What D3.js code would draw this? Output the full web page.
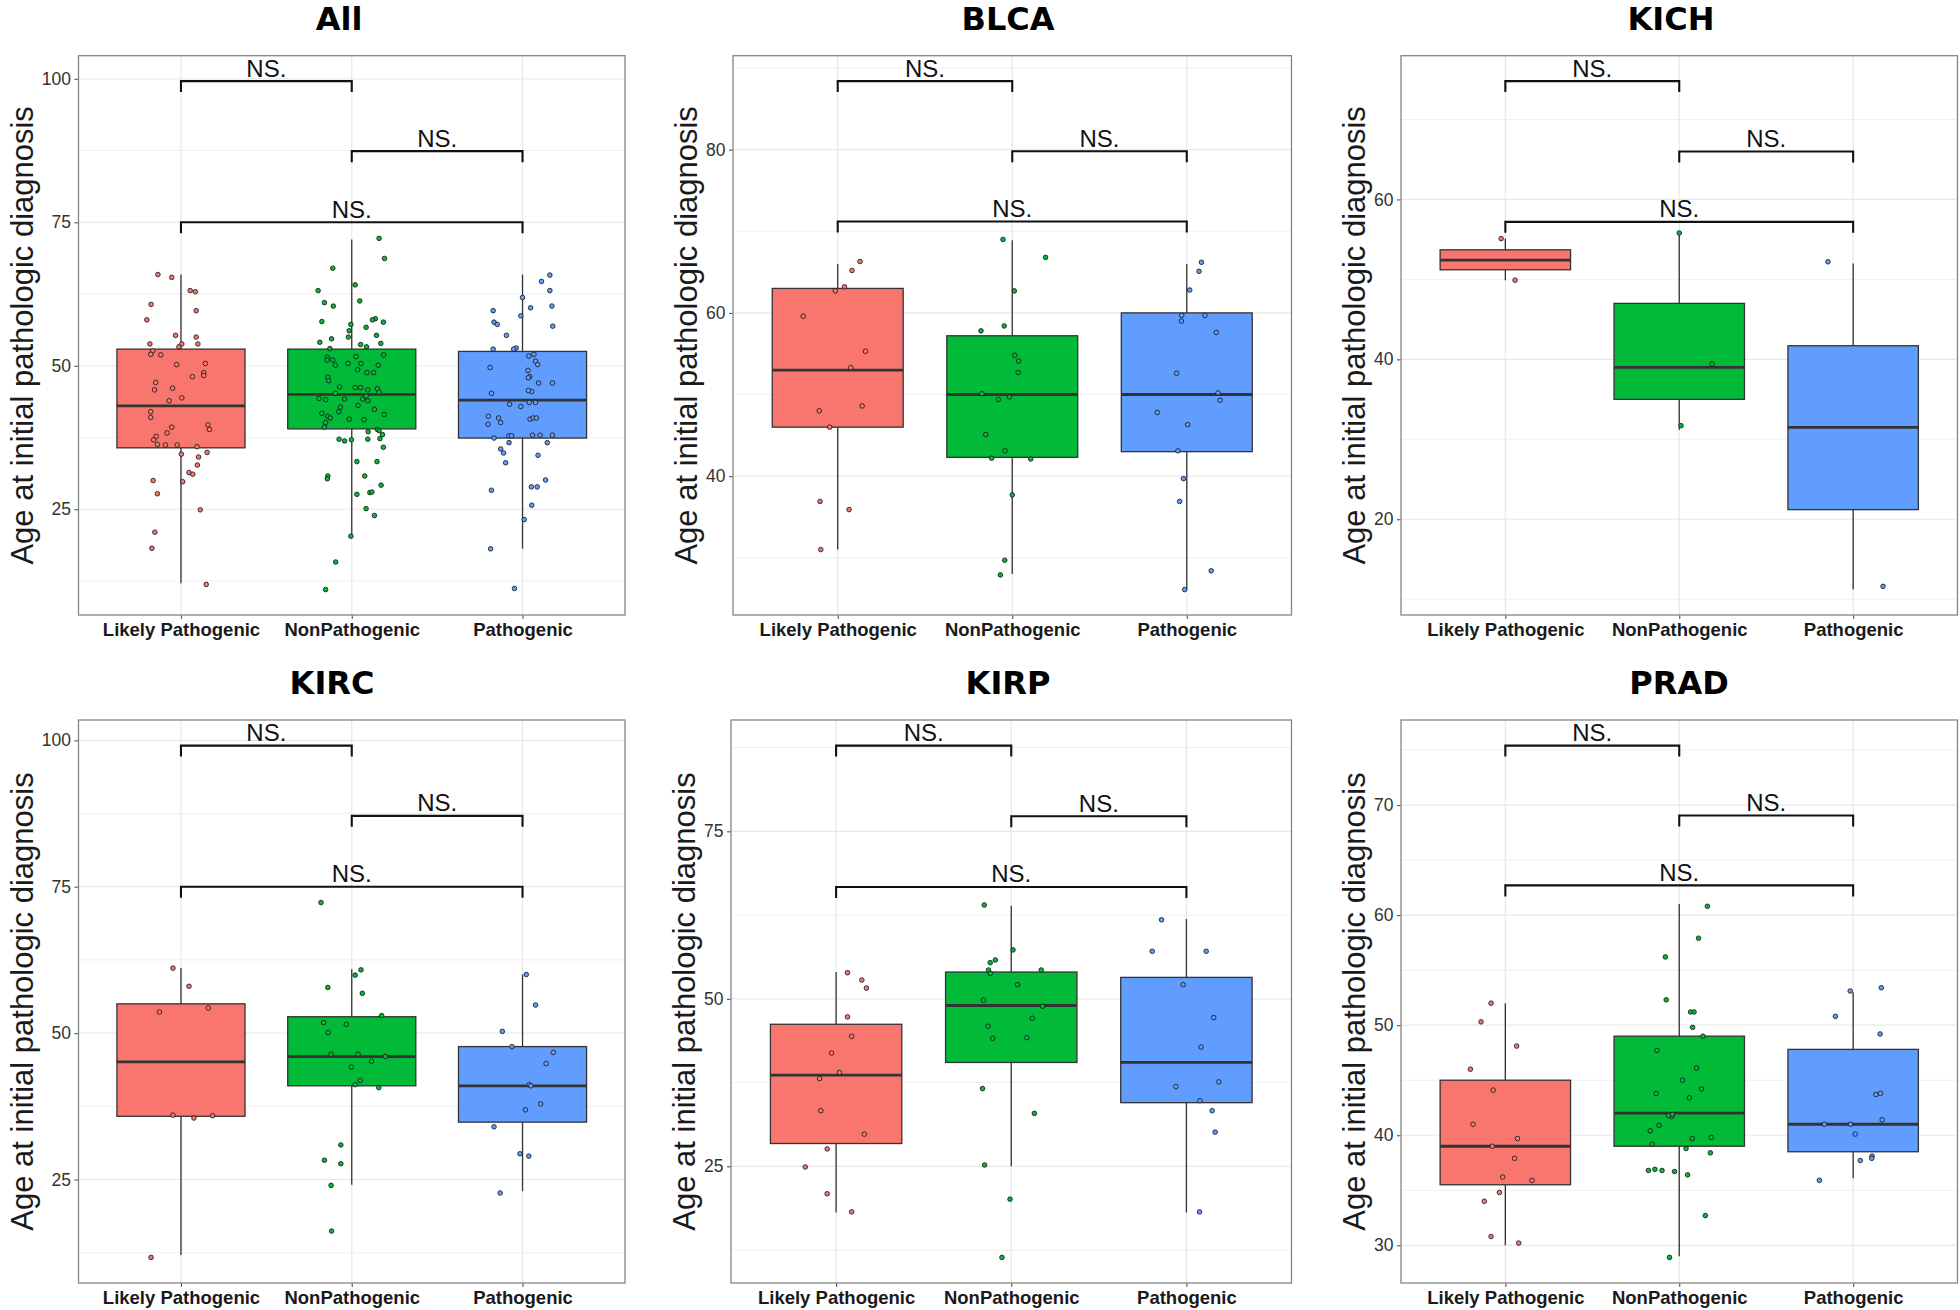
<!DOCTYPE html>
<html><head><meta charset="utf-8">
<script src="https://cdn.jsdelivr.net/npm/d3@7"></script>
<style>body{margin:0;background:#fff}svg{display:block}</style>
</head><body>
<svg id="chart" width="1960" height="1310"></svg>
<script>
// ---------------- data ----------------
const categories = ["Likely Pathogenic", "NonPathogenic", "Pathogenic"];
const fillColors = ["#F8766D", "#00BA38", "#619CFF"];
const panelNames = ["All", "BLCA", "KICH", "KIRC", "KIRP", "PRAD"];
const yLabel = "Age at initial pathologic diagnosis";
const sigLabel = "NS.";
const comparisons = [[0, 1], [1, 2], [0, 2]];

const ticksAll = [25, 50, 75, 100];
const ticksBLCA = [40, 60, 80];
const ticksKICH = [20, 40, 60];
const ticksKIRC = [25, 50, 75, 100];
const ticksKIRP = [25, 50, 75];
const ticksPRAD = [30, 40, 50, 60, 70];

// box stats per category: [lower whisker, Q1, median, Q3, upper whisker]
const boxAll  = [[12.1, 35.7, 43.0, 52.9, 65.9], [20.5, 39.0, 45.0, 52.9, 72.0], [18.1, 37.4, 44.0, 52.5, 65.9]];
const boxBLCA = [[31.0, 46.0, 53.0, 63.0, 66.0], [28.0, 42.3, 50.0, 57.2, 68.9], [26.1, 43.0, 50.0, 60.0, 66.0]];
const boxKICH = [[49.9, 51.2, 52.4, 53.7, 55.1], [31.2, 35.0, 39.0, 47.0, 55.6], [11.2, 21.2, 31.5, 41.7, 52.0]];
const boxKIRC = [[12.1, 35.8, 45.1, 55.0, 61.1], [24.1, 41.0, 46.0, 52.8, 60.9], [23.0, 34.8, 41.0, 47.7, 60.0]];
const boxKIRP = [[18.1, 28.4, 38.6, 46.2, 54.0], [25.0, 40.5, 49.0, 54.0, 63.9], [18.1, 34.5, 40.5, 53.2, 61.9]];
const boxPRAD = [[30.0, 35.5, 39.0, 45.0, 52.0], [29.0, 39.0, 42.0, 49.0, 61.0], [36.1, 38.5, 41.0, 47.8, 53.0]];

// significance bracket heights (LP-NP, NP-P, LP-P)
const bracketsAll  = [99.6, 87.4, 75.0];
const bracketsBLCA = [88.4, 79.8, 71.2];
const bracketsKICH = [74.8, 66.0, 57.2];
const bracketsKIRC = [99.1, 87.1, 75.0];
const bracketsKIRP = [87.8, 77.25, 66.7];
const bracketsPRAD = [75.4, 69.05, 62.7];

const ptsAllLP = [65.9,65.4,63.1,62.9,60.7,59.6,58.0,55.3,55.0,53.8,53.8,53.8,53.3,52.6,52.0,51.9,50.2,50.4,48.1,48.8,48.3,47.1,46.1,45.8,44.4,43.9,42.0,41.0,39.7,38.9,39.3,38.3,37.7,37.1,36.3,36.2,36.2,35.9,34.9,34.6,34.1,31.4,31.1,32.7,30.0,29.8,27.7,24.9,21.0,18.2,11.9];
const jitAllLP = [-0.135,-0.054,0.054,0.084,-0.175,0.089,-0.2,-0.032,0.089,-0.182,0.099,0.005,-0.012,-0.165,-0.177,-0.118,-0.025,0.143,0.067,0.133,0.133,-0.148,-0.049,-0.155,0.005,-0.069,-0.177,-0.177,0.158,0.167,-0.054,-0.081,-0.145,-0.16,-0.138,-0.091,-0.022,0.094,0.153,0.002,0.103,0.047,0.069,0.096,-0.163,0.01,-0.138,0.113,-0.153,-0.17,0.148];
const ptsAllNP = [72.2,68.7,67.0,64.1,63.1,61.0,61.3,60.4,58.2,58.0,57.6,57.7,57.2,56.7,56.1,55.0,55.3,54.7,54.1,53.9,53.7,53.3,53.0,51.9,51.5,51.0,51.0,51.6,50.1,50.4,50.4,50.1,49.3,48.8,48.8,48.0,47.4,46.3,46.2,46.2,46.0,45.8,45.4,45.2,44.3,44.1,44.2,44.2,44.7,43.9,43.1,42.8,42.0,42.4,41.7,41.2,40.9,41.5,40.7,40.6,40.1,39.3,38.9,38.5,38.7,38.0,37.2,36.9,37.1,37.2,37.3,35.8,33.3,33.3,30.8,30.3,30.8,29.2,27.6,27.9,28.0,25.1,23.9,20.3,15.8,11.0];
const jitAllNP = [0.16,0.192,-0.111,0.02,-0.197,-0.16,0.047,-0.108,0.138,0.121,0.185,-0.175,-0.005,0.084,-0.015,-0.02,0.145,-0.118,-0.187,0.17,0.052,0.086,-0.128,0.187,-0.143,-0.111,-0.145,0.025,-0.096,-0.022,0.054,0.155,0.034,0.089,0.128,-0.14,-0.135,-0.071,0.02,0.052,0.15,0.094,0.16,-0.096,-0.192,-0.153,-0.042,0.064,0.084,0.094,0.037,-0.067,-0.076,0.133,-0.175,-0.14,-0.126,0.19,-0.015,0.071,-0.153,-0.16,0.15,0.096,0.16,0.18,-0.074,-0.042,-0.002,0.094,0.165,0.185,0.03,0.148,-0.14,-0.143,0.076,0.172,0.03,0.106,0.118,0.084,0.133,-0.005,-0.094,-0.153];
const ptsAllP = [65.8,64.7,63.1,61.9,60.1,59.6,60.4,58.7,57.6,57.2,56.9,55.3,53.1,52.9,52.9,52.0,51.7,50.8,50.2,49.7,49.2,48.1,47.9,47.0,47.0,45.5,45.7,45.2,43.3,42.9,43.6,43.6,41.2,40.9,40.1,39.8,40.7,40.9,40.9,37.4,37.8,37.8,37.9,37.9,37.9,36.6,35.5,34.8,33.1,34.4,36.6,30.1,28.9,28.9,28.3,25.7,23.2,18.1,11.2];
const jitAllP = [0.16,0.111,0.16,0,0.047,-0.172,0.172,-0.01,-0.167,-0.148,0.177,-0.094,-0.037,-0.052,-0.172,0.067,0.037,0.076,0.089,-0.19,0.032,0.042,0.034,0.175,0.094,0.054,0.034,-0.182,-0.076,-0.01,0.076,0.039,-0.2,-0.14,-0.128,-0.202,0.044,0.062,0.081,-0.167,-0.079,-0.064,0.059,0.103,0.175,-0.079,-0.128,-0.111,-0.099,0.091,0.145,0.135,0.052,0.086,-0.182,0.054,0.01,-0.187,-0.047];

const ptsBLCALP = [66.3,65.2,63.2,62.7,59.6,55.3,53.3,48.6,48.0,46.0,36.9,35.9,31.0];
const jitBLCALP = [0.128,0.082,0.039,-0.014,-0.198,0.159,0.075,0.14,-0.106,-0.046,-0.101,0.065,-0.097];
const ptsBLCANP = [69.0,66.8,62.7,57.8,58.4,54.8,54.1,52.7,50.1,49.7,49.4,45.1,43.1,42.2,42.1,37.7,29.7,27.9];
const jitBLCANP = [-0.053,0.191,0.012,-0.179,-0.046,0.014,0.036,0.034,-0.174,-0.017,-0.08,-0.152,-0.041,-0.118,0.106,0,-0.043,-0.068];
const ptsBLCAP = [66.2,65.1,62.8,59.7,59.0,59.7,57.6,52.6,50.2,49.3,47.8,46.3,43.1,39.7,36.9,28.4,26.1];
const jitBLCAP = [0.084,0.07,0.017,-0.029,-0.031,0.104,0.169,-0.058,0.179,0.191,-0.169,0.005,-0.051,-0.019,-0.041,0.14,-0.012];

const ptsKICHLP = [55.1, 49.9];
const jitKICHLP = [-0.024, 0.056];
const ptsKICHNP = [55.8, 39.4, 31.7];
const jitKICHNP = [0, 0.189, 0.01];
const ptsKICHP = [52.2, 11.6];
const jitKICHP = [-0.145, 0.172];

const ptsKIRCLP = [61.1,58.0,53.6,54.3,36.0,35.5,35.9,11.7];
const jitKIRCLP = [-0.047,0.047,-0.126,0.16,-0.047,0.076,0.185,-0.175];
const ptsKIRCNP = [72.3,60.8,59.9,57.8,56.8,53.0,51.8,51.5,50.1,46.4,46.4,46.0,45.2,44.2,41.9,41.2,40.7,30.9,28.3,27.7,24.0,16.2];
const jitKIRCNP = [-0.18,0.054,0.02,-0.14,0.062,0.175,-0.165,-0.032,-0.138,-0.121,0.037,0.197,0.116,-0.002,0.049,0.02,0.158,-0.064,-0.16,-0.064,-0.121,-0.118];
const ptsKIRCP = [60.0,54.8,50.3,47.7,46.7,44.8,41.2,41.0,36.9,37.9,34.0,29.4,29.0,22.7];
const jitKIRCP = [0.022,0.076,-0.118,-0.062,0.18,0.138,0.039,0.049,0.017,0.106,-0.167,-0.015,0.037,-0.131];

const ptsKIRPLP = [53.9,52.8,51.6,47.3,44.4,41.9,39.0,38.1,33.3,29.8,27.6,24.9,20.9,18.2];
const jitKIRPLP = [0.065,0.147,0.173,0.065,0.089,-0.026,0.019,-0.094,-0.087,0.161,-0.051,-0.176,-0.051,0.089];
const ptsKIRPNP = [64.0,57.3,55.8,55.4,54.3,53.8,54.3,52.1,49.8,48.9,47.1,45.9,44.2,44.1,36.6,32.9,25.2,20.1,11.4];
const jitKIRPNP = [-0.154,0.01,-0.091,-0.12,-0.13,-0.12,0.171,0.036,-0.159,0.178,0.12,-0.132,0.089,-0.106,-0.164,0.132,-0.152,-0.007,-0.053];
const ptsKIRPP = [61.8,57.1,57.1,52.1,47.2,42.8,37.6,36.9,34.8,33.3,30.1,18.2];
const jitKIRPP = [-0.142,-0.195,0.113,-0.019,0.156,0.084,0.185,-0.06,0.077,0.147,0.164,0.075];

const ptsPRADLP = [52.0,50.3,48.1,46.0,44.1,41.0,39.7,39.0,37.9,36.2,35.9,34.8,34.0,30.8,30.2];
const jitPRADLP = [-0.082,-0.14,0.065,-0.201,-0.07,-0.186,0.07,-0.075,0.053,-0.015,0.153,-0.034,-0.121,-0.082,0.077];
const ptsPRADNP = [60.8,57.9,56.2,52.3,51.2,51.2,49.8,49.0,47.7,46.1,45.0,43.8,44.2,43.4,41.7,41.8,41.9,40.9,40.4,39.7,39.8,39.2,38.8,38.4,36.8,36.9,36.8,36.7,36.4,32.7,28.9];
const jitPRADNP = [0.162,0.111,-0.08,-0.075,0.065,0.085,0.077,0.136,-0.128,0.099,0.019,-0.133,0.128,0.058,-0.044,-0.061,-0.039,-0.116,-0.167,0.075,0.184,-0.155,0.039,0.179,-0.177,-0.14,-0.099,-0.027,0.048,0.15,-0.056];
const ptsPRADP = [53.4,53.1,50.8,49.2,43.7,43.8,41.4,41.0,41.0,40.1,38.1,37.9,37.7,35.9];
const jitPRADP = [0.162,-0.017,-0.102,0.155,0.131,0.157,0.167,-0.165,-0.015,0.012,0.109,0.107,0.041,-0.194];

// ---------------- assembly ----------------
const panels = [
  {ticks: ticksAll,  box: boxAll,  brackets: bracketsAll,  pts: [[ptsAllLP, jitAllLP], [ptsAllNP, jitAllNP], [ptsAllP, jitAllP]]},
  {ticks: ticksBLCA, box: boxBLCA, brackets: bracketsBLCA, pts: [[ptsBLCALP, jitBLCALP], [ptsBLCANP, jitBLCANP], [ptsBLCAP, jitBLCAP]]},
  {ticks: ticksKICH, box: boxKICH, brackets: bracketsKICH, pts: [[ptsKICHLP, jitKICHLP], [ptsKICHNP, jitKICHNP], [ptsKICHP, jitKICHP]]},
  {ticks: ticksKIRC, box: boxKIRC, brackets: bracketsKIRC, pts: [[ptsKIRCLP, jitKIRCLP], [ptsKIRCNP, jitKIRCNP], [ptsKIRCP, jitKIRCP]]},
  {ticks: ticksKIRP, box: boxKIRP, brackets: bracketsKIRP, pts: [[ptsKIRPLP, jitKIRPLP], [ptsKIRPNP, jitKIRPNP], [ptsKIRPP, jitKIRPP]]},
  {ticks: ticksPRAD, box: boxPRAD, brackets: bracketsPRAD, pts: [[ptsPRADLP, jitPRADLP], [ptsPRADNP, jitPRADNP], [ptsPRADP, jitPRADP]]}
];

// ---------------- layout (pixels) ----------------
const layout = [
  {left: 78.5, right: 625,    top: 55.7, bottom: 615,  titleX: 339,  titleY: 30},
  {left: 733,  right: 1291.5, top: 55.7, bottom: 615,  titleX: 1008, titleY: 30},
  {left: 1401, right: 1957.5, top: 55.7, bottom: 615,  titleX: 1671, titleY: 30},
  {left: 78.5, right: 625,    top: 720,  bottom: 1283, titleX: 332,  titleY: 694},
  {left: 731,  right: 1291.5, top: 720,  bottom: 1283, titleX: 1008, titleY: 694},
  {left: 1401, right: 1957.5, top: 720,  bottom: 1283, titleX: 1679, titleY: 694}
];
const SANS = "'Liberation Sans', Arial, sans-serif";
const tipPx = 11;

const svg = d3.select("#chart");
svg.append("rect").attr("width", 1960).attr("height", 1310).attr("fill", "#fff");

panels.forEach((p, i) => {
  const L = layout[i];
  const g = svg.append("g");
  const x = d3.scalePoint().domain(categories).range([L.left, L.right]).padding(0.6);
  const step = x.step();
  const vals = [...p.pts.flatMap(d => d[0]), ...p.box.flat(), ...p.brackets];
  const lo = d3.min(vals), hi = d3.max(vals), pad = (hi - lo) * 0.05;
  const y = d3.scaleLinear().domain([lo - pad, hi + pad]).range([L.bottom, L.top]);
  const [d0, d1] = y.domain();

  // panel background + grid
  g.append("rect").attr("x", L.left).attr("y", L.top).attr("width", L.right - L.left)
    .attr("height", L.bottom - L.top).attr("fill", "#fff");
  const tstep = p.ticks[1] - p.ticks[0];
  const minor = [p.ticks[0] - tstep / 2, ...p.ticks.map(t => t + tstep / 2)].filter(v => v > d0 && v < d1);
  g.selectAll(".gmin").data(minor).join("line")
    .attr("x1", L.left).attr("x2", L.right).attr("y1", d => y(d)).attr("y2", d => y(d))
    .attr("stroke", "#f0f0f0").attr("stroke-width", 1);
  g.selectAll(".gmaj").data(p.ticks).join("line")
    .attr("x1", L.left).attr("x2", L.right).attr("y1", d => y(d)).attr("y2", d => y(d))
    .attr("stroke", "#e8e8e8").attr("stroke-width", 1.2);
  g.selectAll(".gx").data(categories).join("line")
    .attr("x1", d => x(d)).attr("x2", d => x(d)).attr("y1", L.top).attr("y2", L.bottom)
    .attr("stroke", "#e8e8e8").attr("stroke-width", 1.2);

  // boxes
  const bw = step * 0.75;
  p.box.forEach((b, k) => {
    const cx = x(categories[k]);
    g.append("line").attr("x1", cx).attr("x2", cx).attr("y1", y(b[0])).attr("y2", y(b[4]))
      .attr("stroke", "#333").attr("stroke-width", 1.3);
    g.append("rect").attr("x", cx - bw / 2).attr("width", bw)
      .attr("y", y(b[3])).attr("height", y(b[1]) - y(b[3]))
      .attr("fill", fillColors[k]).attr("stroke", "#333").attr("stroke-width", 1.3);
    g.append("line").attr("x1", cx - bw / 2).attr("x2", cx + bw / 2).attr("y1", y(b[2])).attr("y2", y(b[2]))
      .attr("stroke", "#333").attr("stroke-width", 2.8);
  });

  // points
  p.pts.forEach(([v, j], k) => {
    g.selectAll(null).data(v).join("circle")
      .attr("cx", (d, n) => x(categories[k]) + (j[n] || 0) * step)
      .attr("cy", d => y(d)).attr("r", 2.3)
      .attr("fill", fillColors[k]).attr("stroke", "#1a1a1a").attr("stroke-width", 0.85);
  });

  // brackets
  comparisons.forEach(([a, b], k) => {
    const xa = x(categories[a]), xb = x(categories[b]), yy = y(p.brackets[k]);
    g.append("path").attr("d", `M${xa},${yy + tipPx}V${yy}H${xb}V${yy + tipPx}`)
      .attr("fill", "none").attr("stroke", "#111").attr("stroke-width", 2.1);
    g.append("text").attr("x", (xa + xb) / 2).attr("y", yy - 4.5).attr("text-anchor", "middle")
      .attr("font-family", SANS).attr("font-size", 24).attr("fill", "#111").text(sigLabel);
  });

  // axes
  const ya = g.append("g").attr("transform", `translate(${L.left},0)`)
    .call(d3.axisLeft(y).tickValues(p.ticks).tickSize(4).tickPadding(3.5));
  ya.select(".domain").remove();
  ya.selectAll(".tick line").attr("stroke", "#555").attr("stroke-width", 1.1);
  ya.selectAll(".tick text").attr("font-family", SANS).attr("font-size", 17.5).attr("fill", "#333");

  const xa = g.append("g").attr("transform", `translate(0,${L.bottom})`)
    .call(d3.axisBottom(x).tickSize(4).tickPadding(4));
  xa.select(".domain").remove();
  xa.selectAll(".tick line").attr("stroke", "#555").attr("stroke-width", 1.1);
  xa.selectAll(".tick text").attr("font-family", SANS).attr("font-size", 18.5).attr("font-weight", "bold")
    .attr("fill", "#1a1a1a").attr("dy", null).attr("y", 21);

  // panel border
  g.append("rect").attr("x", L.left).attr("y", L.top).attr("width", L.right - L.left)
    .attr("height", L.bottom - L.top).attr("fill", "none").attr("stroke", "#858585").attr("stroke-width", 1.3);

  // y label
  let minX = Infinity;
  ya.selectAll(".tick text").each(function () {
    const bb = this.getBBox();
    minX = Math.min(minX, L.left + bb.x);
  });
  const labX = minX - 9;
  g.append("text").attr("transform", `translate(${labX},${(L.top + L.bottom) / 2}) rotate(-90)`)
    .attr("text-anchor", "middle").attr("font-family", SANS).attr("font-size", 31)
    .attr("fill", "#1a1a1a").text(yLabel);

  // title
  g.append("text").attr("x", L.titleX).attr("y", L.titleY).attr("text-anchor", "middle")
    .attr("font-family", "'DejaVu Sans', sans-serif").attr("font-weight", "bold").attr("font-size", 32)
    .attr("fill", "#000").text(panelNames[i]);
});
</script>
</body></html>
